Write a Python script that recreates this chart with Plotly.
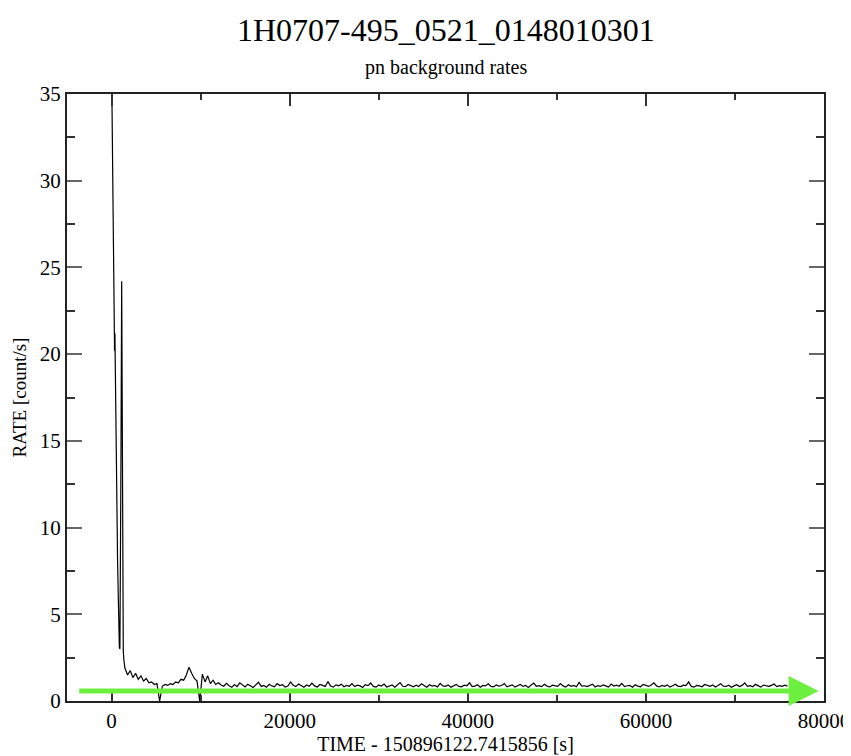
import plotly.graph_objects as go

# ---- data ----
early_time = [0, 60, 120, 180, 240, 300, 340, 380, 420, 460, 520, 600, 680, 760, 820,
              880, 940, 1000, 1060, 1140, 1200, 1260, 1320, 1380, 1440]
early_rate = [37, 33.5, 30.8, 29.5, 26, 22, 20.2, 21.2, 19, 17, 14, 11, 8, 6, 4,
              3.1, 3.0, 7, 14, 24.2, 14, 6, 2.9, 2.4, 1.9]

main_start = 1500
main_bin = 300
main_rate = [
    1.9, 1.5, 1.75, 1.35, 1.6, 1.25, 1.45, 1.15, 1.3, 1.05,
    1.1, 0.95, 1.0, 0, 0.85, 0.95, 0.9, 1.0, 0.95, 1.1,
    1.05, 1.25, 1.2, 1.5, 1.95, 1.6, 1.3, 1.15, 0, 1.55,
    1.1, 1.45, 1.0, 1.2, 0.95, 1.05,
    0.92, 0.85, 1.02, 0.88, 0.79, 0.95, 0.83, 1.05, 0.9, 0.81,
    0.97, 0.86, 0.78, 0.93, 1.08, 0.84, 0.9, 0.8, 0.96, 0.87,
    0.82, 1.0, 0.89, 0.94, 0.8, 0.86, 1.1, 0.91, 0.83, 0.98,
    0.88, 0.79, 0.92, 0.85, 1.03, 0.87, 0.81, 0.95, 0.9, 0.84,
    1.12, 0.86, 0.8, 0.93, 0.88, 0.97, 0.82, 0.9, 0.85, 1.0,
    0.83, 0.91, 0.87, 0.78, 0.94, 0.89, 1.04, 0.84, 0.8, 0.92,
    0.86, 0.98, 0.81, 0.88, 0.93, 0.79, 0.9, 1.06, 0.85, 0.83,
    0.95, 0.87, 0.82, 0.91, 0.84, 1.0, 0.88, 0.8, 0.94, 0.86,
    0.9, 0.81, 1.02, 0.87, 0.85, 0.93, 0.79, 0.89, 0.96, 0.84,
    0.82, 0.91, 0.88, 1.05, 0.83, 0.86, 0.94, 0.8, 0.9, 0.87,
    0.99, 0.84, 0.81, 0.92, 0.86, 0.89, 1.01, 0.82, 0.88, 0.93,
    0.8, 0.87, 0.95, 0.84, 0.9, 0.78, 0.92, 1.03, 0.85, 0.88,
    0.83, 0.96, 0.86, 0.81, 0.91, 0.89, 0.84, 1.0, 0.87, 0.8,
    0.94, 0.85, 0.9, 0.82, 1.07, 0.86, 0.88, 0.83, 0.92, 0.97,
    0.81, 0.89, 0.84, 0.93, 0.87, 0.8, 0.98, 0.86, 0.91, 0.85,
    1.02, 0.83, 0.88, 0.9, 0.79, 0.94, 0.86, 0.82, 0.96, 0.89,
    0.84, 0.92, 1.05, 0.87, 0.81, 0.9, 0.85, 0.93, 0.8, 0.88,
    0.97, 0.86, 0.83, 0.91, 0.89, 1.1, 0.84, 0.8, 0.9, 0.87,
    0.82, 0.95, 0.88, 0.85, 0.93, 0.81, 0.89, 1.0, 0.86, 0.84,
    0.91, 0.79, 0.87, 0.94, 0.83, 0.9, 1.04, 0.85, 0.88, 0.82,
    0.96, 0.86, 0.8, 0.92, 0.87, 0.84, 0.9, 0.98, 0.83, 0.88,
    0.85, 0.91, 0.86,
]

arrow_x = [-3800, 79400]
arrow_y = 0.58

x_tickvals = [0, 20000, 40000, 60000, 80000]
y_tickvals = [0, 5, 10, 15, 20, 25, 30, 35]

title_text = "1H0707-495_0521_0148010301"
subtitle_text = "pn background rates"
x_title = "TIME - 150896122.7415856 [s]"
y_title = "RATE [count/s]"

main_time = [main_start + main_bin * i for i in range(len(main_rate))]
times = early_time + main_time
rates = early_rate + main_rate

SERIF = "Liberation Serif, Times New Roman, serif"

# page body has an 8px margin; the figure is sized to end at the window edge
W, H = 843, 748
ML, MR, MT, MB = 59, 27, 86, 55
plot_h = H - MT - MB

fig = go.Figure()
fig.add_trace(go.Scatter(x=times, y=rates, mode="lines",
                         line=dict(color="black", width=1.2), showlegend=False,
                         hoverinfo="skip"))

fig.add_annotation(x=arrow_x[1], y=arrow_y, ax=arrow_x[0], ay=arrow_y,
                   xref="x", yref="y", axref="x", ayref="y", text="",
                   showarrow=True, arrowhead=2, arrowsize=1.2, arrowwidth=5,
                   arrowcolor="#6cef3f")

fig.add_annotation(text=title_text, x=0.5, xref="paper", yref="paper",
                   y=1 + (MT - 22) / plot_h, yanchor="middle",
                   showarrow=False, font=dict(family=SERIF, size=32, color="black"))
fig.add_annotation(text=subtitle_text, x=0.5, xref="paper", yref="paper",
                   y=1 + (MT - 59) / plot_h, yanchor="middle",
                   showarrow=False, font=dict(family=SERIF, size=20, color="black"))

fig.update_layout(
    width=W, height=H,
    paper_bgcolor="white", plot_bgcolor="white",
    margin=dict(l=ML, r=MR, t=MT, b=MB, autoexpand=False),
    font=dict(family=SERIF, size=21, color="black"),
)

fig.update_xaxes(range=[-5000, 80000], tickvals=x_tickvals, tickformat="d",
                 ticks="inside", ticklen=12, tickwidth=1.5, tickcolor="#333",
                 minor=dict(dtick=10000, tick0=0, ticks="inside", ticklen=6,
                            tickwidth=1.5, tickcolor="#333"),
                 showline=True, linecolor="#222", linewidth=2, mirror="ticks",
                 showgrid=False, zeroline=False, automargin=False,
                 title=dict(text=x_title, standoff=2,
                            font=dict(family=SERIF, size=20)),
                 tickfont=dict(family=SERIF, size=21))
fig.update_yaxes(range=[0, 35], tickvals=y_tickvals,
                 ticks="inside", ticklen=15, tickwidth=1.5, tickcolor="#666",
                 minor=dict(dtick=2.5, tick0=0, ticks="inside", ticklen=8,
                            tickwidth=1.5, tickcolor="#333"),
                 showline=True, linecolor="#222", linewidth=2, mirror="ticks",
                 showgrid=False, zeroline=False, automargin=False,
                 title=dict(text=y_title, standoff=8,
                            font=dict(family=SERIF, size=19)),
                 tickfont=dict(family=SERIF, size=21))

fig.write_html("out.html")
